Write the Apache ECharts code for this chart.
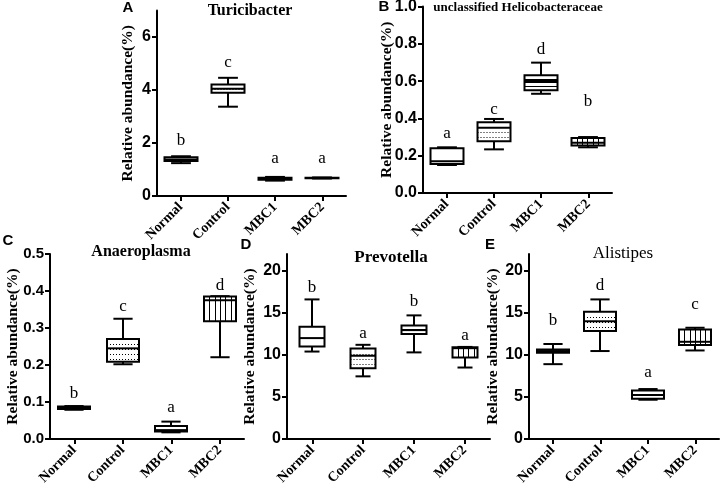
<!DOCTYPE html>
<html><head><meta charset="utf-8">
<script src="https://cdn.jsdelivr.net/npm/echarts@6/dist/echarts.min.js"></script>
<style>html,body{margin:0;padding:0;background:#fff}#c{width:723px;height:496px}</style>
</head><body><div id="c"></div>
<script>
// ---------------- DATA ----------------
const categories = ['Normal', 'Control', 'MBC1', 'MBC2'];
const fillPatterns = ['none', 'dots', 'hlines', 'vlines'];

// each box: [min, Q1, median, Q3, max]
const turicibacterBoxes = [[1.24, 1.32, 1.38, 1.46, 1.50], [3.37, 3.90, 4.05, 4.21, 4.46], [0.58, 0.61, 0.65, 0.69, 0.72], [0.66, 0.67, 0.68, 0.69, 0.70]];
const turicibacterLetters = ['b', 'c', 'a', 'a'];
const turicibacterLetterY = [2.11, 5.02, 1.43, 1.43];
const turicibacterTicks = [0, 2, 4, 6];

const helicoBoxes = [[0.150, 0.155, 0.170, 0.240, 0.245], [0.234, 0.277, 0.350, 0.379, 0.397], [0.532, 0.551, 0.600, 0.631, 0.699], [0.245, 0.255, 0.270, 0.295, 0.300]];
const helicoLetters = ['a', 'c', 'd', 'b'];
const helicoLetterY = [0.32, 0.45, 0.77, 0.49];
const helicoTicks = [0, 0.2, 0.4, 0.6, 0.8, 1.0];

const anaeroBoxes = [[0.079, 0.081, 0.085, 0.088, 0.089], [0.202, 0.209, 0.245, 0.270, 0.325], [0.018, 0.020, 0.024, 0.035, 0.047], [0.221, 0.318, 0.375, 0.385, 0.386]];
const anaeroLetters = ['b', 'c', 'a', 'd'];
const anaeroLetterY = [0.123, 0.357, 0.085, 0.414];
const anaeroTicks = [0, 0.1, 0.2, 0.3, 0.4, 0.5];

const prevoBoxes = [[10.4, 11.0, 12.0, 13.35, 16.6], [7.45, 8.4, 9.9, 10.75, 11.2], [10.3, 12.5, 12.95, 13.5, 14.7], [8.5, 9.7, 10.8, 10.9, 10.95]];
const prevoLetters = ['b', 'a', 'b', 'a'];
const prevoLetterY = [18.05, 12.6, 16.3, 12.35];
const prevoTicks = [0, 5, 10, 15, 20];

const alistBoxes = [[8.9, 10.26, 10.46, 10.65, 11.3], [10.46, 12.83, 14.0, 15.13, 16.6], [4.67, 4.79, 5.23, 5.78, 5.94], [10.53, 11.17, 11.56, 13.03, 13.23]];
const alistLetters = ['b', 'd', 'a', 'c'];
const alistLetterY = [14.1, 18.3, 7.9, 16.0];
const alistTicks = [0, 5, 10, 15, 20];

// ---------------- LAYOUT / STYLE ----------------
const SERIF = '"Liberation Serif", "Times New Roman", serif';
const SANS = '"Liberation Sans", Arial, sans-serif';

const panels = [
  {boxes: turicibacterBoxes, letters: turicibacterLetters, letterY: turicibacterLetterY, ticks: turicibacterTicks,
   grid: {left: 157, top: 10.5, width: 189, height: 185.5}, max: 7, interval: 2, dec: 0, ratio: 0.70, labelSize: 16, nameGap: 21},
  {boxes: helicoBoxes, letters: helicoLetters, letterY: helicoLetterY, ticks: helicoTicks,
   grid: {left: 423, top: 6.5, width: 189, height: 186.5}, max: 1, interval: 0.2, dec: 1, ratio: 0.70, labelSize: 16, nameGap: 28},
  {boxes: anaeroBoxes, letters: anaeroLetters, letterY: anaeroLetterY, ticks: anaeroTicks,
   grid: {left: 50, top: 254, width: 194, height: 185}, max: 0.5, interval: 0.1, dec: 1, ratio: 0.66, labelSize: 15, nameGap: 29},
  {boxes: prevoBoxes, letters: prevoLetters, letterY: prevoLetterY, ticks: prevoTicks,
   grid: {left: 287, top: 254, width: 203, height: 185}, max: 22, interval: 5, dec: 0, ratio: 0.49, labelSize: 16, nameGap: 29},
  {boxes: alistBoxes, letters: alistLetters, letterY: alistLetterY, ticks: alistTicks,
   grid: {left: 529, top: 254, width: 190, height: 185}, max: 22, interval: 5, dec: 0, ratio: 0.67, labelSize: 16, nameGap: 28}
];

function makeRender(p) {
  return function (params, api) {
    const i = params.dataIndex;
    const c = api.value(0);
    const band = api.size([1, 0])[0];
    const w = Math.round(band * p.ratio);
    const cx = Math.round(api.coord([c, 0])[0]);
    const yv = k => api.coord([c, api.value(k)])[1];
    const yMin = yv(1), yQ1 = yv(2), yMed = yv(3), yQ3 = yv(4), yMax = yv(5);
    const x0 = cx - w / 2, x1 = cx + w / 2;
    const cap = w * 0.6;
    const ls = {stroke: '#000', lineWidth: 2, fill: null};
    const ch = [];
    ch.push({type: 'line', shape: {x1: cx, y1: yQ3, x2: cx, y2: yMax}, style: ls});
    ch.push({type: 'line', shape: {x1: cx, y1: yQ1, x2: cx, y2: yMin}, style: ls});
    ch.push({type: 'line', shape: {x1: cx - cap / 2, y1: yMax, x2: cx + cap / 2, y2: yMax}, style: ls});
    ch.push({type: 'line', shape: {x1: cx - cap / 2, y1: yMin, x2: cx + cap / 2, y2: yMin}, style: ls});
    ch.push({type: 'rect', shape: {x: x0, y: yQ3, width: w, height: yQ1 - yQ3}, style: {fill: '#fff', stroke: null}});
    const pat = fillPatterns[i];
    if (pat === 'dots' || pat === 'hlines') {
      const step = pat === 'dots' ? 5 : 3.5;
      for (let y = yQ3 + step; y < yQ1 - 1.5; y += step) {
        const yy = Math.round(y) + 0.5;
        ch.push({type: 'line', shape: {x1: x0, y1: yy, x2: x1, y2: yy},
          style: {stroke: '#000', lineWidth: 1, lineDash: pat === 'dots' ? [1, 2] : null}});
      }
    } else if (pat === 'vlines') {
      for (let x = x0 + 5.3; x < x1 - 1.5; x += 5.3) {
        const xx = Math.round(x) + 0.5;
        ch.push({type: 'line', shape: {x1: xx, y1: yQ3, x2: xx, y2: yQ1}, style: {stroke: '#000', lineWidth: 1}});
      }
    }
    ch.push({type: 'rect', shape: {x: x0, y: yQ3, width: w, height: yQ1 - yQ3}, style: {fill: null, stroke: '#000', lineWidth: 2}});
    ch.push({type: 'line', shape: {x1: x0, y1: yMed, x2: x1, y2: yMed}, style: ls});
    const ly = api.coord([c, p.letterY[i]])[1];
    ch.push({type: 'text', x: cx, y: ly, style: {text: p.letters[i], fill: '#000', font: '17px ' + SERIF,
      align: 'center', verticalAlign: 'middle', textAlign: 'center', textVerticalAlign: 'middle'}});
    return {type: 'group', children: ch};
  };
}

const axisLineStyle = {color: '#000', width: 2};
const option = {
  animation: false,
  backgroundColor: '#fff',
  grid: panels.map(p => Object.assign({containLabel: false, outerBoundsMode: 'none'}, p.grid)),
  xAxis: panels.map((p, i) => ({
    gridIndex: i, type: 'category', data: categories, boundaryGap: true,
    axisLine: {show: true, lineStyle: axisLineStyle},
    axisTick: {show: true, alignWithLabel: true, length: 5, lineStyle: axisLineStyle},
    axisLabel: {interval: 0, rotate: 45, margin: 9, color: '#000', fontFamily: SERIF, fontWeight: 'bold', fontSize: 14},
    splitLine: {show: false}
  })),
  yAxis: panels.map((p, i) => ({
    gridIndex: i, type: 'value', min: 0, max: p.max, interval: p.interval,
    axisLine: {show: true, lineStyle: axisLineStyle},
    axisTick: {show: true, length: 5, lineStyle: axisLineStyle, customValues: p.ticks},
    axisLabel: {customValues: p.ticks, margin: 6, color: '#000', fontFamily: SANS, fontWeight: 'bold', fontSize: p.labelSize,
      formatter: v => Number(v).toFixed(p.dec)},
    splitLine: {show: false},
    name: 'Relative abundance(%)', nameLocation: 'middle', nameGap: p.nameGap, nameMoveOverlap: false,
    nameTextStyle: {color: '#000', fontFamily: SERIF, fontWeight: 'bold', fontSize: 15.5}
  })),
  series: panels.map((p, i) => ({
    type: 'custom', xAxisIndex: i, yAxisIndex: i, clip: false, silent: true,
    encode: {x: 0, y: [1, 2, 3, 4, 5]},
    data: p.boxes.map((b, k) => [k].concat(b)),
    renderItem: makeRender(p)
  })),
  graphic: [
    {type: 'text', x: 250, y: 11, style: {text: 'Turicibacter', font: 'bold 16px ' + SERIF, fill: '#000', align: 'center', verticalAlign: 'middle'}},
    {type: 'text', x: 518, y: 8, style: {text: 'unclassified Helicobacteraceae', font: 'bold 13px ' + SERIF, fill: '#000', align: 'center', verticalAlign: 'middle'}},
    {type: 'text', x: 141, y: 252, style: {text: 'Anaeroplasma', font: 'bold 16px ' + SERIF, fill: '#000', align: 'center', verticalAlign: 'middle'}},
    {type: 'text', x: 391, y: 258, style: {text: 'Prevotella', font: 'bold 17px ' + SERIF, fill: '#000', align: 'center', verticalAlign: 'middle'}},
    {type: 'text', x: 623, y: 254, style: {text: 'Alistipes', font: '17px ' + SERIF, fill: '#000', align: 'center', verticalAlign: 'middle'}},
    {type: 'text', x: 128, y: 8, style: {text: 'A', font: 'bold 15px ' + SANS, fill: '#000', align: 'center', verticalAlign: 'middle'}},
    {type: 'text', x: 384, y: 7, style: {text: 'B', font: 'bold 15px ' + SANS, fill: '#000', align: 'center', verticalAlign: 'middle'}},
    {type: 'text', x: 8, y: 241, style: {text: 'C', font: 'bold 15px ' + SANS, fill: '#000', align: 'center', verticalAlign: 'middle'}},
    {type: 'text', x: 246, y: 245, style: {text: 'D', font: 'bold 15px ' + SANS, fill: '#000', align: 'center', verticalAlign: 'middle'}},
    {type: 'text', x: 490, y: 245, style: {text: 'E', font: 'bold 15px ' + SANS, fill: '#000', align: 'center', verticalAlign: 'middle'}}
  ]
};
const chart = echarts.init(document.getElementById('c'), null, {renderer: 'canvas'});
chart.setOption(option);
</script>
</body></html>
